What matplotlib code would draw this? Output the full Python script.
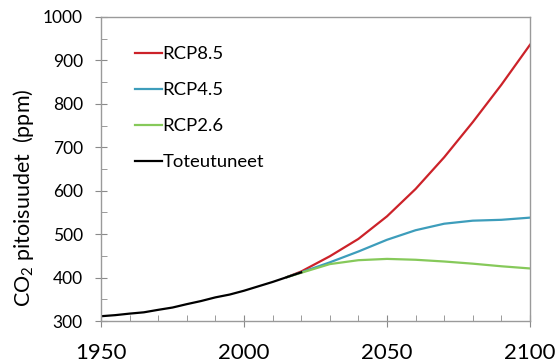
import matplotlib
matplotlib.use("Agg")
import matplotlib.pyplot as plt
from matplotlib.ticker import MultipleLocator

plt.rcParams['font.family'] = ['Lato', 'DejaVu Sans']
plt.rcParams['mathtext.fontset'] = 'custom'
plt.rcParams['mathtext.rm'] = 'Lato'
plt.rcParams['mathtext.it'] = 'Lato:italic'

# observed CO2 concentration (ppm)
obs_years = [1950, 1955, 1960, 1965, 1970, 1975, 1980, 1985,
             1990, 1995, 2000, 2005, 2010, 2015, 2020]
obs_ppm = [311, 313.5, 317, 320, 325.7, 331, 338.8, 346,
           354.4, 360.9, 369.7, 379.8, 389.9, 401, 412]

# scenario pathways
rcp_years = [2015, 2020, 2030, 2040, 2050, 2060, 2070, 2080, 2090, 2100]
rcp85 = [401, 414, 449, 489, 541, 604, 677, 758, 844, 936]
rcp45 = [401, 412, 435, 460, 487, 509, 524, 531, 533, 538]
rcp26 = [401, 411, 431, 440, 443, 441, 437, 432, 426, 421]

fig = plt.figure(figsize=(5.57, 3.63), dpi=100)
ax = fig.add_axes([0.1813, 0.1157, 0.7702, 0.8375])

ax.plot(rcp_years, rcp85, color="#cc2229", lw=1.6, label="RCP8.5")
ax.plot(rcp_years, rcp45, color="#3d9dbb", lw=1.6, label="RCP4.5")
ax.plot(rcp_years, rcp26, color="#86c95a", lw=1.6, label="RCP2.6")
ax.plot(obs_years, obs_ppm, color="black", lw=1.6, label="Toteutuneet")

ax.set_xlim(1950, 2100)
ax.set_ylim(300, 1000)
ax.xaxis.set_major_locator(MultipleLocator(50))
ax.xaxis.set_minor_locator(MultipleLocator(10))
ax.yaxis.set_major_locator(MultipleLocator(100))
ax.yaxis.set_minor_locator(MultipleLocator(50))

for s in ax.spines.values():
    s.set_color("#9a9a9a")
    s.set_linewidth(1.0)

ax.tick_params(axis="x", which="major", direction="inout", length=9,
               color="#8a8a8a", labelsize=16, pad=11)
ax.tick_params(axis="x", which="minor", direction="in", length=4,
               color="#8a8a8a")
ax.tick_params(axis="y", which="major", direction="inout", length=8,
               color="#8a8a8a", labelsize=12.5, pad=9)
ax.tick_params(axis="y", which="minor", direction="in", length=4,
               color="#8a8a8a")

ax.set_ylabel(r"CO$_2$ pitoisuudet  (ppm)", fontsize=15.5, labelpad=8)
ax.yaxis.set_label_coords(-0.152, 0.405)

ax.legend(loc="upper left", frameon=False, fontsize=13.3,
          handlelength=1.45, handletextpad=0.05, labelspacing=1.08,
          borderpad=0, borderaxespad=0,
          bbox_to_anchor=(0.079, 0.904))

fig.savefig("out.png", dpi=100)
